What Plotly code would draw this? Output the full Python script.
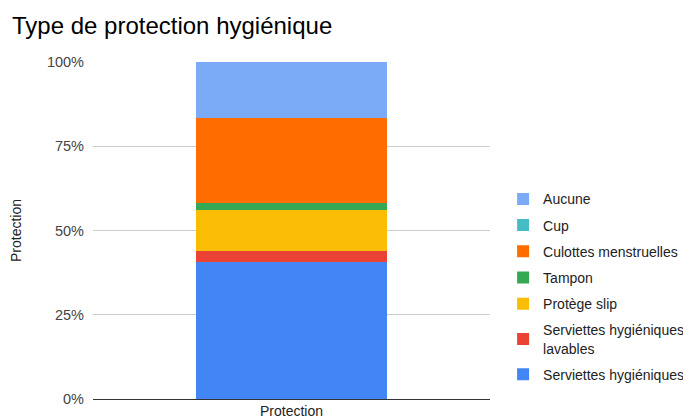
import plotly.graph_objects as go

categories = ["Protection"]
series_names = ["Serviettes hygiéniques", "Serviettes hygiéniques<br>lavables", "Protège slip",
                "Tampon", "Culottes menstruelles", "Cup", "Aucune"]
series_values = [40.6, 3.3, 12.3, 2.1, 25.0, 0.0, 16.7]
series_colors = ["#4285F4", "#EA4335", "#FBBC04", "#34A853", "#FF6D01", "#46BDC6", "#7BAAF7"]
y_ticks = [0, 25, 50, 75, 100]
y_tick_labels = ["0%", "25%", "50%", "75%", "100%"]

W, H = 683, 410  # page body has an 8px margin

fig = go.Figure()
total = sum(series_values)
n = len(series_names)
for i, (name, val, col) in enumerate(zip(series_names, series_values, series_colors)):
    fig.add_trace(go.Bar(
        x=categories, y=[val / total * 100], name=name,
        marker=dict(color=col, line=dict(width=0)),
        legendgroup=name, legendrank=1000 + (n - i),
        hovertemplate="%{y:.1f}%<extra>" + name + "</extra>",
    ))

fig.update_layout(
    width=W, height=H,
    barmode="stack", bargap=0.517,
    plot_bgcolor="white", paper_bgcolor="white",
    margin=dict(l=85, r=201, t=54, b=18.5, autoexpand=False),
    font=dict(family="Liberation Sans, Arial, sans-serif", size=14, color="#222222"),
    title=dict(text="Type de protection hygiénique", x=4/W, xref="container", xanchor="left",
               y=1-18/H, yref="container", yanchor="middle",
               font=dict(size=24, color="#000000")),
    legend=dict(x=1.033, xanchor="left", y=0.333, yanchor="middle",
                traceorder="grouped", tracegroupgap=5,
                font=dict(size=14, color="#222222"), itemclick=False),
    showlegend=True,
)
fig.update_yaxes(range=[0, 100], tickvals=y_ticks, ticktext=y_tick_labels,
                 showgrid=True, gridcolor="#cccccc", gridwidth=1, zeroline=False,
                 ticks="", ticklabelstandoff=8, automargin=False,
                 title=dict(text="Protection", font=dict(size=14, color="#222222"), standoff=38),
                 tickfont=dict(size=14.5, color="#444444"))
fig.update_xaxes(showline=True, linecolor="#333333", linewidth=1, ticks="", automargin=False,
                 ticklabelstandoff=-1,
                 tickfont=dict(size=14, color="#222222"))

fig.write_html("out.html")
